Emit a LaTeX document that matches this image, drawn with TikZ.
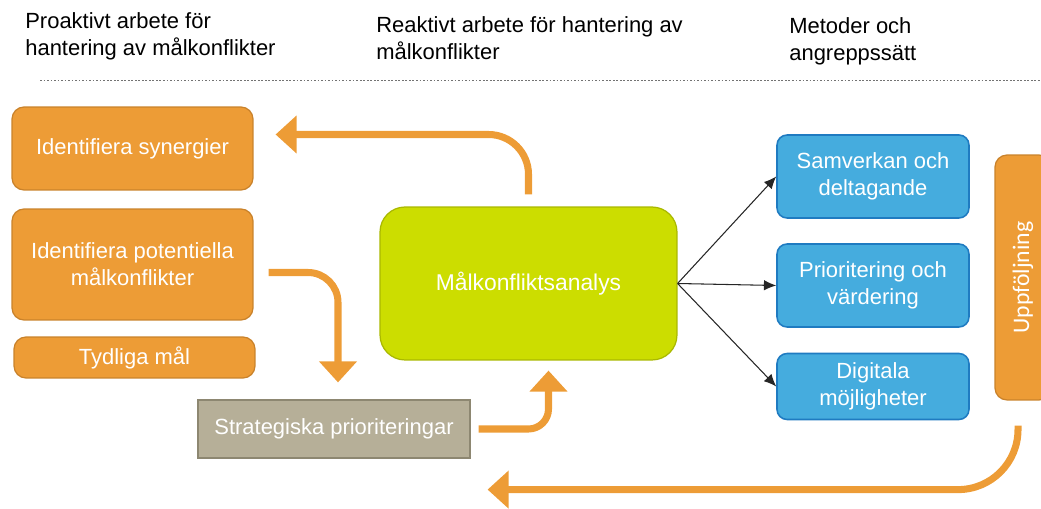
\documentclass[tikz,border=0pt]{standalone}
\usepackage{fontspec}
\setmainfont{Liberation Sans}
\newfontfamily\calibrifont{Carlito}
\usetikzlibrary{arrows.meta,calc}

\definecolor{orangefill}{HTML}{ED9C36}
\definecolor{orangeedge}{HTML}{C9822B}
\definecolor{limefill}{HTML}{CCDD00}
\definecolor{limeedge}{HTML}{A9B800}
\definecolor{tanfill}{HTML}{B6AF98}
\definecolor{tanedge}{HTML}{8D8771}
\definecolor{bluefill}{HTML}{45ACDE}
\definecolor{blueedge}{HTML}{1F7BC1}

\tikzset{
  header/.style={anchor=north west, align=left, inner sep=0pt, font=\fontsize{12.5}{15.5}\selectfont},
  boxtext/.style={text=white, align=center, font=\fontsize{12.5}{15.5}\selectfont},
  orangebox/.style={boxtext, draw=orangeedge, fill=orangefill, line width=0.7pt, rounded corners=0.24cm},
  limebox/.style={boxtext, draw=limeedge, fill=limefill, line width=0.7pt, rounded corners=0.5cm},
  tanbox/.style={boxtext, draw=tanedge, fill=tanfill, line width=0.7pt},
  bluebox/.style={boxtext, draw=blueedge, fill=bluefill, line width=0.9pt, rounded corners=0.2cm},
  flow/.style={draw=orangefill, line width=4pt, -{Triangle[length=12pt,width=21pt]}},
  thinarrow/.style={draw=black!85, line width=0.6pt, -{Latex[length=7pt,width=6pt]}},
}

\begin{document}
\begin{tikzpicture}[x=0.02cm,y=-0.02cm]
    \useasboundingbox (0,0) rectangle (1041,509);
    \clip (0,0) rectangle (1041,509);

    \node[header] (proaktiv) at (25,12) {Proaktivt arbete för\\hantering av målkonflikter};
    \node[header] (reaktiv) at (376,16) {Reaktivt arbete för hantering av\\målkonflikter};
    \node[header] (metoder) at (789,17) {Metoder och\\angreppssätt};

    \draw[black!55, dash pattern=on 1pt off 1pt] (40,80) -- (1041,80);

    \node[orangebox, minimum width=4.82cm, minimum height=1.66cm] (synergier) at (132.5,148.5) {Identifiera synergier};
    \node[orangebox, minimum width=4.82cm, minimum height=2.22cm] (potentiella) at (132.5,264.5) {Identifiera potentiella\\målkonflikter};
    \node[orangebox, minimum width=4.82cm, minimum height=0.82cm] (tydliga) at (134.5,357.5) {Tydliga mål};
    \node[tanbox, minimum width=5.44cm, minimum height=1.16cm] (strategiska) at (334,429) {Strategiska prioriteringar};

    \node[limebox, minimum width=5.94cm, minimum height=3.06cm, font=\fontsize{13}{15.5}\selectfont] (analys) at (528.5,283.5) {Målkonfliktsanalys};

    \node[bluebox, minimum width=3.84cm, minimum height=1.66cm] (samverkan) at (873,176.5) {Samverkan och\\deltagande};
    \node[bluebox, minimum width=3.84cm, minimum height=1.66cm] (prioritering) at (873,285.5) {Prioritering och\\värdering};
    \node[bluebox, minimum width=3.84cm, minimum height=1.32cm] (digitala) at (873,386.5) {Digitala\\möjligheter};

    \node[orangebox, rotate=90, minimum width=4.9cm, minimum height=1.12cm, font=\calibrifont\fontsize{13.5}{16}\selectfont] (uppfoljning) at (1023,277.5) {Uppföljning};

    \draw[thinarrow] (analys.east) -- (samverkan.west);
    \draw[thinarrow] (analys.east) -- (prioritering.west);
    \draw[thinarrow] (analys.east) -- (digitala.west);

    \draw[flow, rounded corners=0.8cm] ([yshift=0.24cm]analys.north) |- ([xshift=0.44cm,yshift=0.28cm]synergier.east);
    \draw[flow, rounded corners=0.6cm] ([xshift=0.3cm,yshift=-0.16cm]potentiella.east) -| ([xshift=0.08cm,yshift=0.34cm]strategiska.north);
    \draw[flow, rounded corners=0.4cm] ([xshift=0.16cm]strategiska.east) -| ([xshift=0.4cm,yshift=-0.2cm]analys.south);
    \draw[flow, rounded corners=1.2cm] ([xshift=-0.1cm,yshift=-0.5cm]uppfoljning.west) |- ([xshift=0.34cm,yshift=-0.62cm]strategiska.south east);

\end{tikzpicture}
\end{document}
